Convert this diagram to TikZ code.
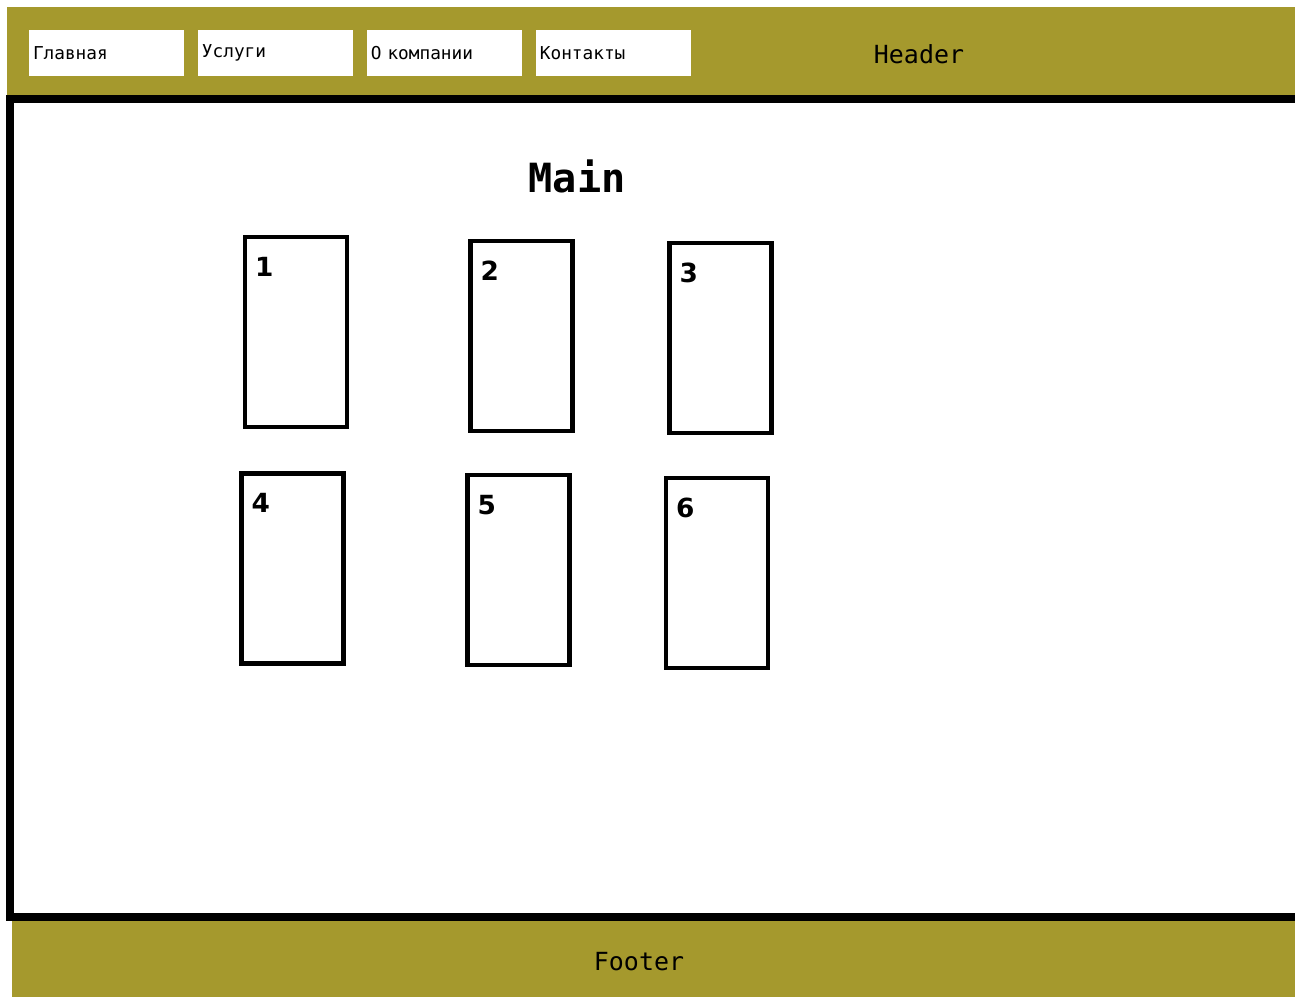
\documentclass[tikz,border=0pt]{standalone}
\usepackage{fontspec}
\setmainfont{DejaVu Sans}
\setsansfont{DejaVu Sans}
\setmonofont{DejaVu Sans Mono}
\usetikzlibrary{positioning}
\definecolor{bandolive}{HTML}{A5992D}

\begin{document}
\begin{tikzpicture}[
        x=0.02cm, y=-0.02cm,
        band/.style={fill=bandolive, draw=none},
        navbtn/.style={fill=white, minimum height=0.92cm, text width=2.94cm, inner xsep=0.08cm, inner ysep=0pt, outer sep=0pt, align=left, font=\ttfamily\fontsize{10.1}{12}\selectfont},
        card/.style={draw, line width=0.085cm, minimum width=2.04cm, minimum height=3.8cm},
        num/.style={anchor=north west, inner sep=0pt, xshift=0.24cm, yshift=-0.44cm, font=\sffamily\bfseries\fontsize{15}{17}\selectfont},
        bandtext/.style={inner sep=0pt, font=\ttfamily\fontsize{14.2}{16}\selectfont}
    ]
    \useasboundingbox (0,0) rectangle (1295,997);
    \clip (0,0) rectangle (1295,997);

    % Header
    \fill[band] (7,7) rectangle (1310,95);
    \node (nav1) [navbtn] at (106.5,53) {Главная};
    \node (nav2) [navbtn, right=0.28cm of nav1] {Услуги};
    \node (nav3) [navbtn, right=0.28cm of nav2] {О компании};
    \node (nav4) [navbtn, right=0.28cm of nav3] {Контакты};
    \node (hdr) [bandtext] at (919,54) {Header};

    % Main
    \draw[line width=0.16cm] (10,99) rectangle (1320,917);
    \node (mainttl) [inner sep=0pt, font=\ttfamily\bfseries\fontsize{22.9}{26}\selectfont] at (577,176) {Main};

    % Cards
    \node (c1) [card, label={[num]north west:1}] at (296,332) {};
    \node (c2) [card, label={[num]north west:2}] at (521.5,336) {};
    \node (c3) [card, label={[num]north west:3}] at (720.5,338) {};
    \node (c4) [card, label={[num]north west:4}] at (292.5,568.5) {};
    \node (c5) [card, label={[num]north west:5}] at (518.5,570) {};
    \node (c6) [card, label={[num]north west:6}] at (717,573) {};

    % Footer
    \fill[band] (12,921) rectangle (1310,1010);
    \node (ftr) [bandtext] at (639,962) {Footer};

\end{tikzpicture}
\end{document}
